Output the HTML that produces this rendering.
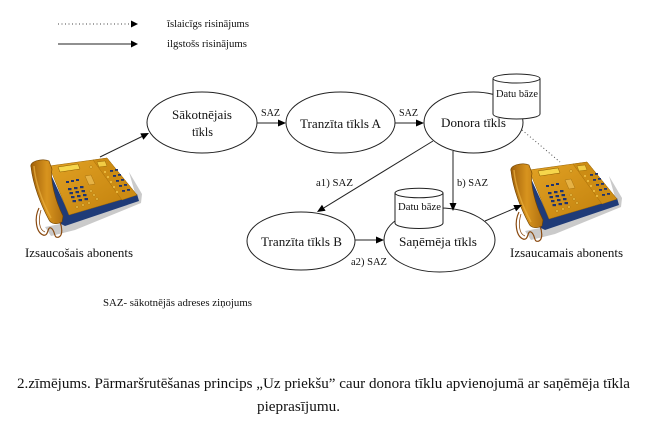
<!DOCTYPE html>
<html>
<head>
<meta charset="utf-8">
<style>
  html,body{margin:0;padding:0;background:#fff;}
  svg{display:block;}
  text{font-family:"Liberation Serif","DejaVu Serif",serif;fill:#111;}
</style>
</head>
<body>
<svg width="650" height="432" viewBox="0 0 650 432" xmlns="http://www.w3.org/2000/svg">
  <defs>
    <linearGradient id="gold" x1="0" y1="0" x2="1" y2="1">
      <stop offset="0" stop-color="#e2a224"/>
      <stop offset="1" stop-color="#c07f0c"/>
    </linearGradient>
    <linearGradient id="hs" x1="0" y1="0" x2="1" y2="0">
      <stop offset="0" stop-color="#a0600a"/>
      <stop offset="0.5" stop-color="#d8941e"/>
      <stop offset="1" stop-color="#b07010"/>
    </linearGradient>
    <g id="phone">
      <!-- shadow -->
      <polygon points="104,22 117,44 116,53 50,80 26,86 20,77 40,73 112,50" fill="#cacaca"/>
      <!-- blue base -->
      <polygon points="23,18 44,64 112,44 114,51 40,76 32,72 21,30" fill="#1f3b78"/>
      <!-- top face -->
      <polygon points="24,16 82,8 112,45 44,65" fill="url(#gold)" stroke="#9a6608" stroke-width="0.5"/>
      <polygon points="68,10 82,8 112,45 97,50" fill="#cc8c14" stroke="#9a6608" stroke-width="0.4"/>
      <!-- displays -->
      <polygon points="33,17 53,14 55,19 35,22" fill="#f6d64c" stroke="#8a5a00" stroke-width="0.5"/>
      <polygon points="72,12 80,11 82,16 74,17" fill="#f2cc44" stroke="#8a5a00" stroke-width="0.4"/>
      <!-- top keys row -->
      <g fill="#1f3370">
        <rect x="41" y="31" width="3" height="2"/>
        <rect x="46" y="30" width="3" height="2"/>
        <rect x="51" y="29" width="3" height="2"/>
      </g>
      <!-- keypad -->
      <g fill="#1f3370">
        <rect x="43" y="38" width="3.5" height="2.2"/>
        <rect x="49" y="37" width="3.5" height="2.2"/>
        <rect x="55" y="36" width="3.5" height="2.2"/>
        <rect x="44.5" y="42" width="3.5" height="2.2"/>
        <rect x="50.5" y="41" width="3.5" height="2.2"/>
        <rect x="56.5" y="40" width="3.5" height="2.2"/>
        <rect x="46" y="46" width="3.5" height="2.2"/>
        <rect x="52" y="45" width="3.5" height="2.2"/>
        <rect x="58" y="44" width="3.5" height="2.2"/>
        <rect x="47.5" y="50" width="3.5" height="2.2"/>
        <rect x="53.5" y="49" width="3.5" height="2.2"/>
        <rect x="59.5" y="48" width="3.5" height="2.2"/>
      </g>
      <!-- misc buttons -->
      <polygon points="60,26 66,25 70,34 64,35" fill="#e6b244" stroke="#9a6608" stroke-width="0.4"/>
      <g fill="#f0c24a" stroke="#8a5a00" stroke-width="0.3">
        <circle cx="66" cy="41" r="1.2"/><circle cx="69" cy="45" r="1.2"/>
        <circle cx="72" cy="49" r="1.2"/><circle cx="64" cy="53" r="1.2"/>
        <circle cx="58" cy="55" r="1.2"/><circle cx="52" cy="57" r="1.2"/>
        <circle cx="66" cy="17" r="1.3"/>
      </g>
      <g fill="#1f3370">
        <rect x="85" y="20" width="3" height="1.8"/><rect x="90" y="19" width="3" height="1.8"/>
        <rect x="88" y="25" width="3" height="1.8"/><rect x="93" y="24" width="3" height="1.8"/>
        <rect x="91" y="30" width="3" height="1.8"/><rect x="96" y="29" width="3" height="1.8"/>
        <rect x="94" y="35" width="3" height="1.8"/><rect x="99" y="34" width="3" height="1.8"/>
        <rect x="97" y="40" width="3" height="1.8"/><rect x="102" y="39" width="3" height="1.8"/>
      </g>
      <g fill="#f2c64a">
        <circle cx="80" cy="22" r="1"/><circle cx="83" cy="27" r="1"/>
        <circle cx="86" cy="32" r="1"/><circle cx="89" cy="37" r="1"/>
        <circle cx="92" cy="42" r="1"/>
      </g>
      <!-- handset -->
      <path d="M6,17 C4,11 18,8 24,11 L27,19 C25,30 30,50 38,66 L37,72 C32,75 26,74 24,70 C16,55 8,35 6,17 Z" fill="url(#hs)" stroke="#6e4200" stroke-width="0.6"/>
      <path d="M9,16 C10,30 16,50 26,68" fill="none" stroke="#eab040" stroke-width="1.5" opacity="0.7"/>
      <!-- cord -->
      <path d="M14,58 C9,68 11,82 18,85 C24,87 22,76 26,78 C31,81 28,89 34,87 C38,85 37,77 35,72" fill="none" stroke="#8a4a10" stroke-width="1.2"/>
      <path d="M16,60 C13,70 14,80 20,82" fill="none" stroke="#8a4a10" stroke-width="0.8"/>
    </g>
  </defs>

  <!-- Legend -->
  <line x1="58" y1="24" x2="131" y2="24" stroke="#444" stroke-width="1" stroke-dasharray="1,2.5"/>
  <polygon points="138,24 131,20.5 131,27.5" fill="#000"/>
  <line x1="58" y1="44" x2="131" y2="44" stroke="#222" stroke-width="1"/>
  <polygon points="138,44 131,40.5 131,47.5" fill="#000"/>
  <text x="167" y="27" font-size="11" textLength="82" lengthAdjust="spacingAndGlyphs">īslaicīgs risinājums</text>
  <text x="167" y="47" font-size="11" textLength="80" lengthAdjust="spacingAndGlyphs">ilgstošs risinājums</text>

  <!-- Phones -->
  <use href="#phone" transform="translate(25,150)"/>
  <use href="#phone" transform="translate(505,154)"/>

  <!-- Ellipses -->
  <g fill="#fff" stroke="#222" stroke-width="1">
    <ellipse cx="202" cy="122.5" rx="55" ry="30.5"/>
    <ellipse cx="340.5" cy="122.5" rx="54.5" ry="30.5"/>
    <ellipse cx="473.5" cy="122.5" rx="49.5" ry="30.5"/>
    <ellipse cx="301" cy="241" rx="54" ry="29"/>
    <ellipse cx="439.5" cy="240" rx="55.5" ry="32"/>
  </g>

  <!-- Cylinders -->
  <g fill="#fff" stroke="#222" stroke-width="1">
    <path d="M493,78.5 L493,114 A23.5,5 0 0 0 540,114 L540,78.5"/>
    <ellipse cx="516.5" cy="78.5" rx="23.5" ry="4.5"/>
    <path d="M395,193 L395,223 A24,5.5 0 0 0 443,223 L443,193"/>
    <ellipse cx="419" cy="193" rx="24" ry="4.8"/>
  </g>

  <!-- Connectors -->
  <g stroke="#222" stroke-width="1" fill="none">
    <line x1="100" y1="157" x2="142" y2="136.5"/>
    <line x1="257" y1="123" x2="279" y2="123"/>
    <line x1="395" y1="123" x2="417" y2="123"/>
    <line x1="433" y1="141" x2="324" y2="207.8"/>
    <line x1="453" y1="151" x2="453" y2="204"/>
    <line x1="355" y1="240" x2="377" y2="240"/>
    <line x1="485" y1="221" x2="515" y2="208.2"/>
  </g>
  <line x1="522" y1="130" x2="560" y2="162" stroke="#555" stroke-width="1" stroke-dasharray="1,2.5"/>
  <g fill="#000">
    <polygon points="149,133 143.4,139.7 140.3,133.4"/>
    <polygon points="286,123 278,119.5 278,126.5"/>
    <polygon points="424,123 416,119.5 416,126.5"/>
    <polygon points="317,212 325.6,210.8 322,204.8"/>
    <polygon points="453,211 449.5,203 456.5,203"/>
    <polygon points="384,240 376,236.5 376,243.5"/>
    <polygon points="522,205 516.1,211.4 513.3,205"/>
  </g>

  <!-- Node labels -->
  <text x="172" y="119" font-size="13" textLength="60" lengthAdjust="spacingAndGlyphs">Sākotnējais</text>
  <text x="192" y="136" font-size="13" textLength="21" lengthAdjust="spacingAndGlyphs">tīkls</text>
  <text x="300" y="128" font-size="13" textLength="81" lengthAdjust="spacingAndGlyphs">Tranzīta tīkls A</text>
  <text x="441" y="127" font-size="13" textLength="65" lengthAdjust="spacingAndGlyphs">Donora tīkls</text>
  <text x="496" y="97" font-size="10.5" textLength="42" lengthAdjust="spacingAndGlyphs">Datu bāze</text>
  <text x="261" y="116" font-size="10" textLength="19" lengthAdjust="spacingAndGlyphs">SAZ</text>
  <text x="399" y="116" font-size="10" textLength="19" lengthAdjust="spacingAndGlyphs">SAZ</text>
  <text x="316" y="186" font-size="10.5" textLength="37" lengthAdjust="spacingAndGlyphs">a1) SAZ</text>
  <text x="457" y="186" font-size="10.5" textLength="31" lengthAdjust="spacingAndGlyphs">b) SAZ</text>
  <text x="398" y="210" font-size="10.5" textLength="43" lengthAdjust="spacingAndGlyphs">Datu bāze</text>
  <text x="261" y="246" font-size="13" textLength="81" lengthAdjust="spacingAndGlyphs">Tranzīta tīkls B</text>
  <text x="399" y="246" font-size="13" textLength="78" lengthAdjust="spacingAndGlyphs">Saņēmēja tīkls</text>
  <text x="351" y="265" font-size="10.5" textLength="36" lengthAdjust="spacingAndGlyphs">a2) SAZ</text>
  <text x="25" y="257" font-size="13" textLength="108" lengthAdjust="spacingAndGlyphs">Izsaucošais abonents</text>
  <text x="510" y="257" font-size="13" textLength="113" lengthAdjust="spacingAndGlyphs">Izsaucamais abonents</text>

  <!-- Notes / caption -->
  <text x="103" y="306" font-size="11" textLength="149" lengthAdjust="spacingAndGlyphs">SAZ- sākotnējās adreses ziņojums</text>
  <text x="17" y="388" font-size="15" textLength="613" lengthAdjust="spacingAndGlyphs">2.zīmējums. Pārmaršrutēšanas princips „Uz priekšu” caur donora tīklu apvienojumā ar saņēmēja tīkla</text>
  <text x="257" y="411" font-size="15" textLength="83" lengthAdjust="spacingAndGlyphs">pieprasījumu.</text>
</svg>
</body>
</html>
